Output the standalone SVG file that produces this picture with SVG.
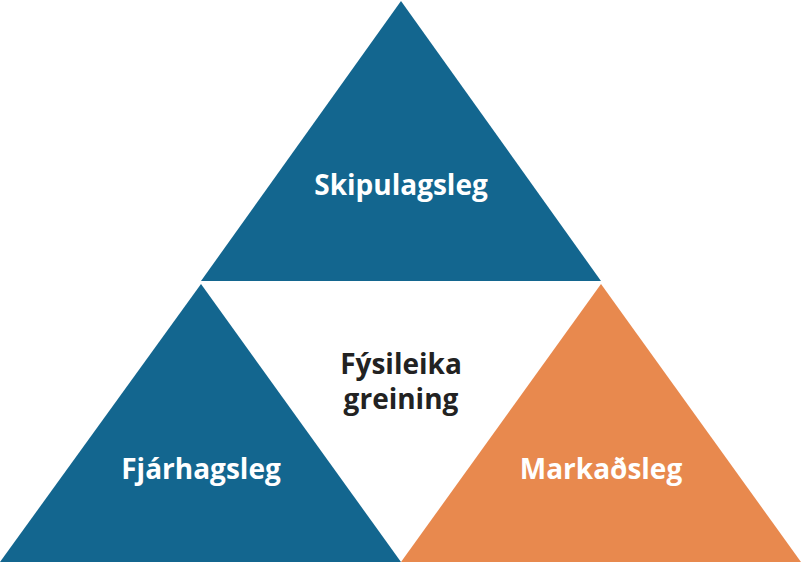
<svg xmlns="http://www.w3.org/2000/svg" width="801" height="563" viewBox="0 0 801 563">
<style>
.b{fill:#13668f}.o{fill:#e8894e}
.t{font-family:"Open Sans","Liberation Sans",sans-serif;font-weight:bold;font-size:28px;text-anchor:middle}
.w{fill:#fff}.d{fill:#222}
</style>
<rect width="801" height="563" fill="#fff"/>
<g id="top"><polygon class="b" points="401,1 201,281 601,281"/><text class="t w" x="401" y="195">Skipulagsleg</text></g>
<g id="left"><polygon class="b" points="201,284 0,562 401,562"/><text class="t w" x="201" y="479">Fjárhagsleg</text></g>
<g id="right"><polygon class="o" points="601,284 401,562 801,562"/><text class="t w" x="601" y="479">Markaðsleg</text></g>
<g id="center"><text class="t d" x="401" y="374">Fýsileika</text><text class="t d" x="401" y="409">greining</text></g>
<g id="connectors"/>
</svg>
